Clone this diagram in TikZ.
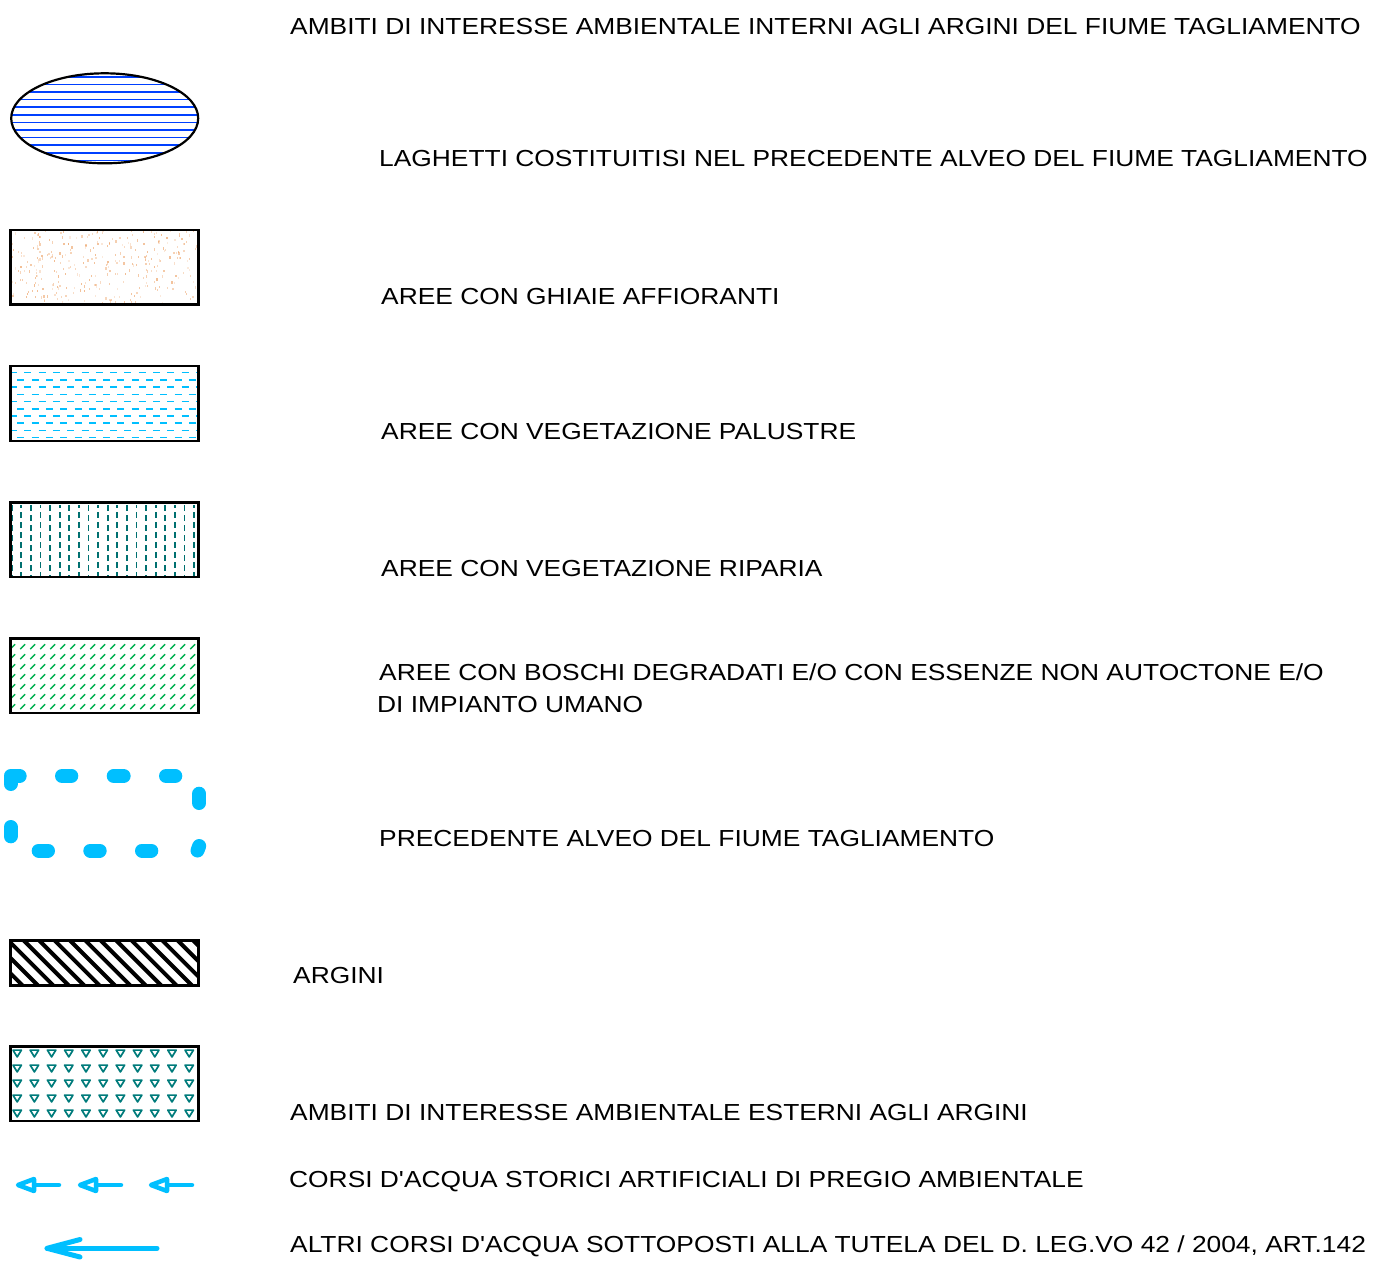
\documentclass[tikz,border=0pt]{standalone}
\usepackage{fontspec}
\newfontfamily\lblfont[FakeStretch=1.136]{Liberation Sans}
\definecolor{hblue}{RGB}{0,64,255}
\definecolor{sky}{RGB}{0,191,255}
\definecolor{tealc}{RGB}{0,112,112}
\definecolor{greenc}{RGB}{0,176,80}
\definecolor{gravel}{RGB}{236,160,100}
\definecolor{tealt}{RGB}{0,123,123}
\tikzset{
  lbl/.style={anchor=base west,inner sep=0pt,font=\lblfont\fontsize{23.2}{24}\selectfont},
  frame/.style={draw=black,line width=2.8pt},
  bigdash/.style={draw=sky,line width=14pt,line cap=round,line join=round},
  arrc/.style={draw=sky,line width=4.5pt,line cap=round,line join=round},
}
\begin{document}
\begin{tikzpicture}[x=1pt,y=-1pt]
\useasboundingbox (0,0) rectangle (1377,1264);

% 1 ellipse with blue horizontal hatch
\begin{scope}
\clip (104.7,118.3) ellipse [x radius=93.5,y radius=45];
\foreach \yy in {76.7,84.3,...,162} \draw[hblue,line width=1.6pt] (5,\yy) -- (205,\yy);
\end{scope}
\draw[black,line width=2.2pt] (104.7,118.3) ellipse [x radius=93.5,y radius=45];

% 2 gravel
\begin{scope}
\clip (10.5,230) rectangle (198.5,304.5);
\pgfmathsetseed{7}
\foreach \i in {1,...,320}{
  \pgfmathsetmacro\rx{11+187*rnd}
  \pgfmathsetmacro\ry{231+73*rnd}
  \pgfmathsetmacro\op{0.2+0.5*rnd}
  \fill[gravel,opacity=\op] (\rx,\ry) rectangle ++(1.2,-2.2);
}
\end{scope}
\draw[frame] (10.5,230) rectangle (198.5,304.5);

% 3 palustre
\begin{scope}
\clip (10.5,366) rectangle (198.5,441);
\foreach \yy [count=\k] in {372.3,379.7,387,394.3,401.3,408.7,416,423,430.3,437.3}{
  \pgfmathsetmacro\ph{mod(\k,2)==1 ? 0 : 7}
  \draw[sky,line width=1.6pt,dash pattern=on 7pt off 7.3pt,dash phase=\ph pt] (10,\yy) -- (200,\yy);
}
\end{scope}
\draw[frame] (10.5,366) rectangle (198.5,441);

% 4 riparia
\begin{scope}
\clip (10.5,502.5) rectangle (198.5,577);
\foreach \xx [count=\k] in {11.7,21.3,...,200}{
  \pgfmathsetmacro\ph{mod(\k,2)==1 ? 0 : 3}
  \draw[tealc,line width=1.7pt,dash pattern=on 6pt off 4pt,dash phase=\ph pt] (\xx,505) -- (\xx,580);
}
\end{scope}
\draw[frame] (10.5,502.5) rectangle (198.5,577);

% 5 boschi
\begin{scope}
\clip (10.5,638.8) rectangle (198.5,713);
\foreach \yy in {646.7,656.7,...,710}{
  \foreach \xx in {12.7,22.7,...,200}{
    \draw[greenc,line width=1.5pt] (\xx-2.4,\yy+2.4) -- (\xx+2.4,\yy-2.4);
  }
}
\end{scope}
\draw[frame] (10.5,638.8) rectangle (198.5,713);

% 6 big dashed outline (former river bed)
\draw[bigdash] (10.5,784) -- (10.5,776) -- (19.7,776);
\draw[bigdash] (62,776) -- (71.3,776);
\draw[bigdash] (113.7,776) -- (123.7,776);
\draw[bigdash] (166,776) -- (175.3,776);
\draw[bigdash] (199.2,793.7) -- (199.2,803);
\draw[bigdash] (199.2,846) -- (197.5,850.5);
\draw[bigdash] (142,850.5) -- (151.3,850.5);
\draw[bigdash] (90.3,850.5) -- (99.7,850.5);
\draw[bigdash] (38.7,850.5) -- (48,850.5);
\draw[bigdash] (10.5,827) -- (10.5,836.3);

% 7 argini
\begin{scope}
\clip (10.5,940) rectangle (198.5,985);
\foreach \k in {-4,...,14}{
  \draw[black,line width=4pt] (13.3+\k*15.4,940-10) -- ++(65,65);
}
\end{scope}
\draw[black,line width=3pt] (10.5,940) rectangle (198.5,985);

% 8 esterni triangles
\begin{scope}
\clip (10.5,1046.5) rectangle (198.5,1121);
\foreach \yy [count=\r] in {1053.3,1068.3,1083.3,1098.3,1113.3}{
  \pgfmathsetmacro\x0{mod(\r,2)==1 ? 20 : 11.4}
  \foreach \j in {0,...,11}{
    \pgfmathsetmacro\xc{\x0+\j*17.2}
    \draw[tealt,line width=1.7pt,line join=round] (\xc-4.2,\yy-3.2) -- (\xc+4.2,\yy-3.2) -- (\xc,\yy+3.6) -- cycle;
  }
}
\end{scope}
\draw[frame] (10.5,1046.5) rectangle (198.5,1121);

% 9 dashed arrows
\foreach \t in {18,80,151}{
  \draw[arrc] (\t,1185) -- (\t+16,1179) -- (\t+16,1191) -- cycle;
  \draw[arrc] (\t+16,1185) -- (\t+41,1185);
}

% 10 solid arrow
\draw[sky,line width=5pt,line cap=round] (47,1248.3) -- (157,1248.3);
\draw[sky,line width=5pt,line cap=round,line join=round] (80,1239.5) -- (47,1248.3) -- (80,1257);
\fill[sky] (47,1248.3) -- (68,1243) -- (64,1248.3) -- (68,1253.6) -- cycle;

% texts
\node[lbl] (t1) at (290,34.4) {AMBITI DI INTERESSE AMBIENTALE INTERNI AGLI ARGINI DEL FIUME TAGLIAMENTO};
\node[lbl] (t2) at (379,166.5) {LAGHETTI COSTITUITISI NEL PRECEDENTE ALVEO DEL FIUME TAGLIAMENTO};
\node[lbl] (t3) at (381,304.5) {AREE CON GHIAIE AFFIORANTI};
\node[lbl] (t4) at (381,439.5) {AREE CON VEGETAZIONE PALUSTRE};
\node[lbl] (t5) at (381,576.5) {AREE CON VEGETAZIONE RIPARIA};
\node[lbl] (t6) at (379,680) {AREE CON BOSCHI DEGRADATI E/O CON ESSENZE NON AUTOCTONE E/O};
\node[lbl] (t6b) at (377,712) {DI IMPIANTO UMANO};
\node[lbl] (t7) at (379,846.5) {PRECEDENTE ALVEO DEL FIUME TAGLIAMENTO};
\node[lbl] (t8) at (293,983.5) {ARGINI};
\node[lbl] (t9) at (290,1120.5) {AMBITI DI INTERESSE AMBIENTALE ESTERNI AGLI ARGINI};
\node[lbl] (t10) at (289,1187.5) {CORSI D'ACQUA STORICI ARTIFICIALI DI PREGIO AMBIENTALE};
\node[lbl] (t11) at (290,1252.7) {ALTRI CORSI D'ACQUA SOTTOPOSTI ALLA TUTELA DEL D. LEG.VO 42 / 2004, ART.142};
\end{tikzpicture}
\end{document}
